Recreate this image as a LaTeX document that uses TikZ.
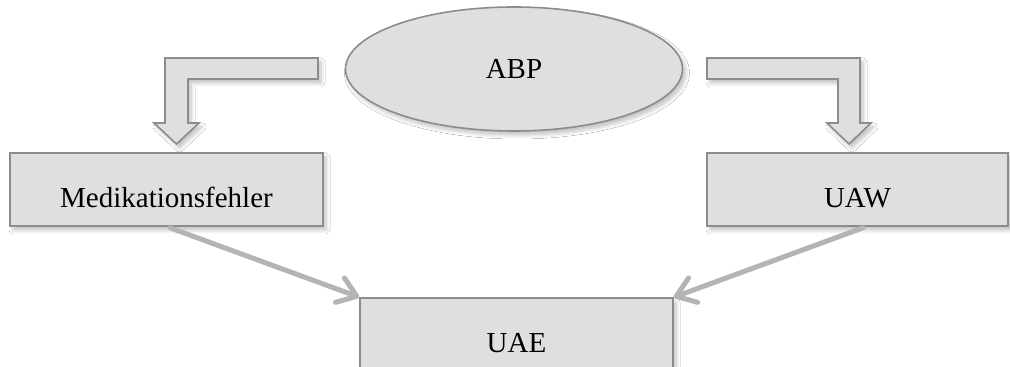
\documentclass[tikz,border=0pt]{standalone}
\usepackage{fontspec}
\setmainfont{Liberation Serif}
\usetikzlibrary{arrows.meta,calc,shapes.geometric,shadows.blur}
\definecolor{boxfill}{HTML}{DFDFDF}
\definecolor{boxline}{HTML}{8C8C8C}
\definecolor{linkgray}{HTML}{B4B4B4}
\tikzset{
  softshadow/.style={blur shadow={shadow xshift=1.5pt, shadow yshift=-2pt,
      shadow blur radius=2pt, shadow blur steps=6, shadow opacity=25}},
  boxnode/.style={rectangle, draw=boxline, line width=0.8pt, fill=boxfill,
      minimum width=156.5pt, minimum height=36.5pt, inner sep=0pt,
      text height=17.6pt, text depth=0pt, font=\fontsize{14.5}{17}\selectfont},
  ovalnode/.style={ellipse, draw=boxline, line width=0.8pt, fill=boxfill,
      minimum width=168.5pt, minimum height=62pt, inner sep=0pt,
      font=\fontsize{14.5}{17}\selectfont, softshadow},
  blockarrow/.style={draw=boxline, line width=0.8pt, fill=boxfill, line join=miter, softshadow},
  linkarrow/.style={draw=linkgray, line width=2.5pt, line cap=round,
      -{Straight Barb[length=9pt, width=13pt, round]}}
}
\begin{document}
\begin{tikzpicture}[x=0.5pt, y=-0.5pt]
  \useasboundingbox[fill=white] (0,0) rectangle (1010,367);

  %%%%% nodes %%%%%
  \node[ovalnode] (abp) at (514,69) {ABP};
  \node[boxnode, softshadow] (med) at (166.5,189.5) {Medikationsfehler};
  \node[boxnode, softshadow, minimum width=150.5pt] (uaw) at (857.5,189.5) {UAW};
  \node[boxnode, softshadow] (uae) at (516.5,334.5) {UAE};

  %%%%% bent block arrows %%%%%
  \draw[blockarrow] (318,58) -- (165,58) -- (165,123) -- (154,123) -- (176.5,144)
      -- (199,123) -- (188,123) -- (188,79) -- (318,79) -- cycle;
  \draw[blockarrow] (707,58) -- (860,58) -- (860,123) -- (871,123) -- (849,144)
      -- (827,123) -- (838,123) -- (838,79) -- (707,79) -- cycle;

  %%%%% links %%%%%
  \draw[linkarrow] ([xshift=1.75pt, yshift=-0.5pt]med.south) -- (uae.north west);
  \draw[linkarrow] ([xshift=2.75pt, yshift=-0.5pt]uaw.south) -- (uae.north east);
\end{tikzpicture}
\end{document}
